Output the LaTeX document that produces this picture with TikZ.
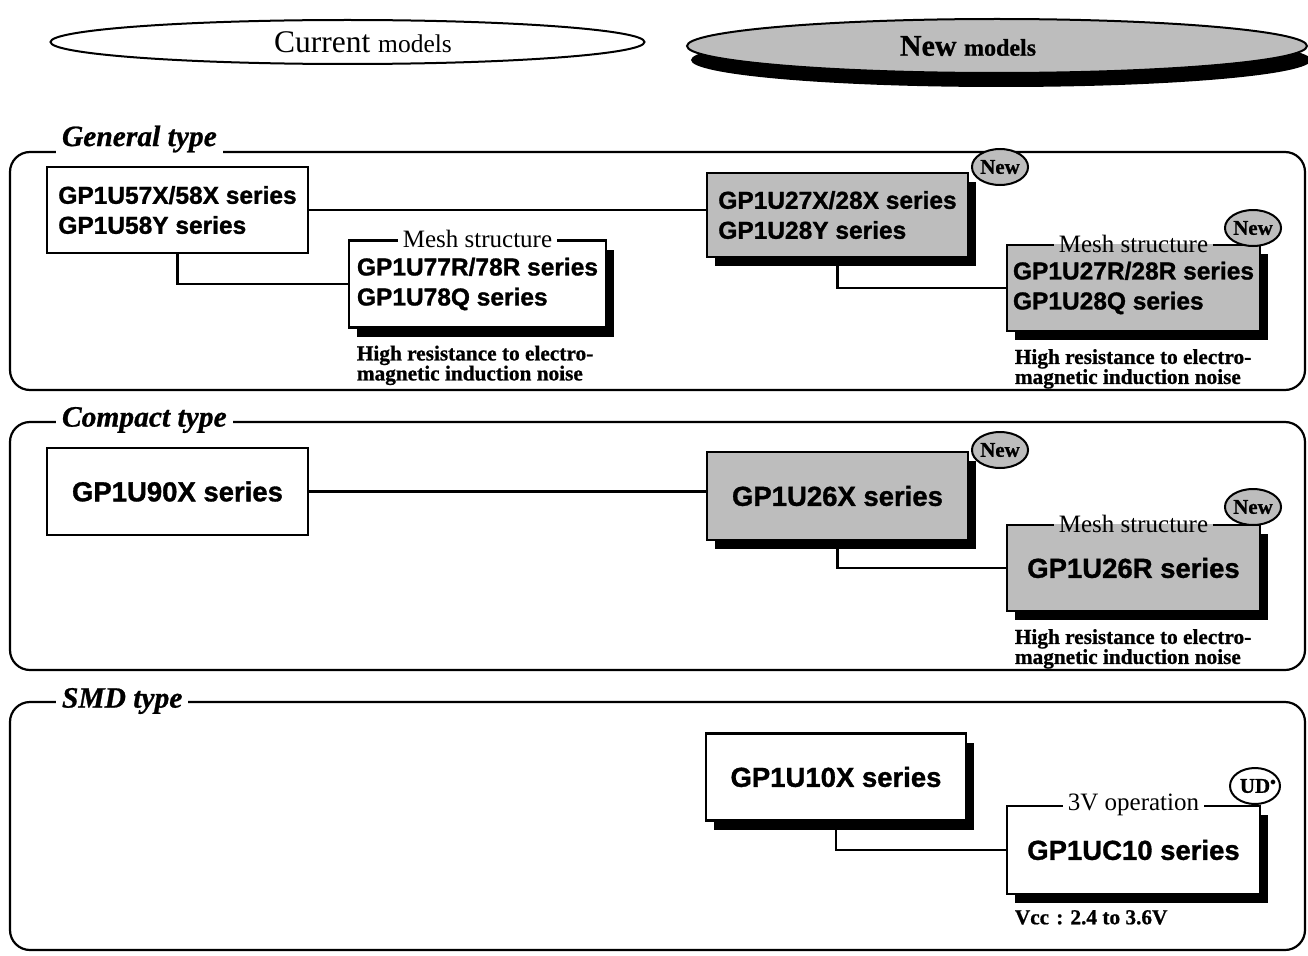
\documentclass[tikz,border=0pt]{standalone}
\usepackage{fontspec}
\setmainfont{Liberation Serif}
\newfontfamily\hv[FakeBold=1.2]{Liberation Sans Bold}
\newfontfamily\tmb[FakeBold=0.8]{Liberation Serif Bold}
\newfontfamily\tmbi[FakeBold=0.8]{Liberation Serif Bold Italic}
\usetikzlibrary{shapes.geometric,shadows,calc}
\definecolor{dotgray}{gray}{0.74}
\tikzset{
 ser/.style={font=\hv\fontsize{24.5}{30}\selectfont, align=left, inner sep=0pt},
 big/.style={font=\hv\fontsize{27.5}{30}\selectfont},
 plainbox/.style={ser, draw, line width=2.3pt, fill=white},
 shbox/.style={plainbox, drop shadow={shadow xshift=8pt, shadow yshift=-9pt, fill=black, opacity=1}},
 graybox/.style={shbox, fill=dotgray},
 grp/.style={draw, line width=2.2pt, rounded corners=20pt},
 grptitle/.style={font=\tmbi\fontsize{29.5}{30}\selectfont, fill=white, inner xsep=6pt, inner ysep=2pt, anchor=west},
 subtitle/.style={font=\fontsize{25}{26}\selectfont, fill=white, inner xsep=5pt, inner ysep=1pt},
 subtitleg/.style={subtitle, fill=dotgray, path picture={\fill[white] (path picture bounding box.north west) rectangle (path picture bounding box.east);}},
 note/.style={font=\tmb\fontsize{21.3}{20}\selectfont, align=left, anchor=north west, inner sep=0pt},
 badge/.style={ellipse, draw, line width=2pt, fill=dotgray, font=\tmb\fontsize{21}{21}\selectfont, inner xsep=0pt, inner ysep=0pt, minimum width=50pt, minimum height=36pt},
 link/.style={line width=2.4pt},
}
\begin{document}
\begin{tikzpicture}[x=1pt,y=-1pt,line width=2pt]
\useasboundingbox (0,0) rectangle (1308,955);
% header ellipses
\node[ellipse, draw, line width=2pt, minimum width=594pt, minimum height=44pt] (cur) at (347.5,42) {};
\node (curt) at (363,42) {\fontsize{31.5}{30}\selectfont Current \fontsize{25.5}{30}\selectfont models};
\node[ellipse, draw, line width=2pt, fill=dotgray, minimum width=620pt, minimum height=54pt,
      drop shadow={shadow xshift=4pt, shadow yshift=-14pt, fill=black, opacity=1}] (new) at (997,46) {};
\node (newt) at (968,46) {\tmb\fontsize{30}{30}\selectfont New \fontsize{24}{30}\selectfont models};

% ---------- General type
\draw[grp] (10,152) rectangle (1305,390);
\node[grptitle] (g1) at (55,139) {General type};
\node[plainbox, minimum width=261pt, minimum height=86pt] (a1) at (177.5,210) {GP1U57X/58X series\\GP1U58Y series};
\node[shbox, minimum width=257pt, minimum height=87pt] (a2) at (477.5,284) {GP1U77R/78R series\\GP1U78Q series};
\node[subtitle] (a2t) at (a2.north) {Mesh structure};
\node[note] (a2n) at ($(a2.south west)+(8,16)$) {High resistance to electro-\\magnetic induction noise};
\node[graybox, minimum width=261pt, minimum height=84pt] (b1) at (837.5,215) {GP1U27X/28X series\\GP1U28Y series};
\node[badge] (b1b) at (1000,167) {New};
\node[graybox, minimum width=253pt, minimum height=86pt] (b2) at (1133.5,288) {GP1U27R/28R series\\GP1U28Q series};
\node[subtitleg] (b2t) at (b2.north) {Mesh structure};
\node[badge] (b2b) at (1253,228) {New};
\node[note] (b2n) at ($(b2.south west)+(8,16)$) {High resistance to electro-\\magnetic induction noise};
\draw[link] (a1.east) -- (a1.east -| b1.west);
\draw[link] (a1.south) |- (a2.west);
\draw[link] (b1.south) |- (b2.west);

% ---------- Compact type
\draw[grp] (10,422) rectangle (1305,670);
\node[grptitle] (g2) at (55,420) {Compact type};
\node[plainbox, big, minimum width=261pt, minimum height=87pt] (c1) at (177.5,491.5) {GP1U90X series};
\node[graybox, big, minimum width=261pt, minimum height=88pt] (d1) at (837.5,496) {GP1U26X series};
\node[badge] (d1b) at (1000,450) {New};
\node[graybox, big, minimum width=253pt, minimum height=86pt] (d2) at (1133.5,568) {GP1U26R series};
\node[subtitleg] (d2t) at (d2.north) {Mesh structure};
\node[badge] (d2b) at (1253,507) {New};
\node[note] (d2n) at ($(d2.south west)+(8,16)$) {High resistance to electro-\\magnetic induction noise};
\draw[link] (c1.east) -- (c1.east -| d1.west);
\draw[link] (d1.south) |- (d2.west);

% ---------- SMD type
\draw[grp] (10,702) rectangle (1305,950);
\node[grptitle] (g3) at (55,701) {SMD type};
\node[shbox, big, minimum width=260pt, minimum height=87pt] (e1) at (836,777) {GP1U10X series};
\node[shbox, big, minimum width=253pt, minimum height=88pt] (e2) at (1133.5,850) {GP1UC10 series};
\node[subtitle] (e2t) at (e2.north) {3V operation};
\node[badge, fill=white] (e2b) at (1255,786) {UD\rlap{\raisebox{7pt}{\fontsize{13}{13}\selectfont$\bullet$}}};
\node[note] (e2n) at ($(e2.south west)+(8,14)$) {Vcc\,\,:\,\,2.4 to 3.6V};
\draw[link] (e1.south) |- (e2.west);
\end{tikzpicture}
\end{document}
